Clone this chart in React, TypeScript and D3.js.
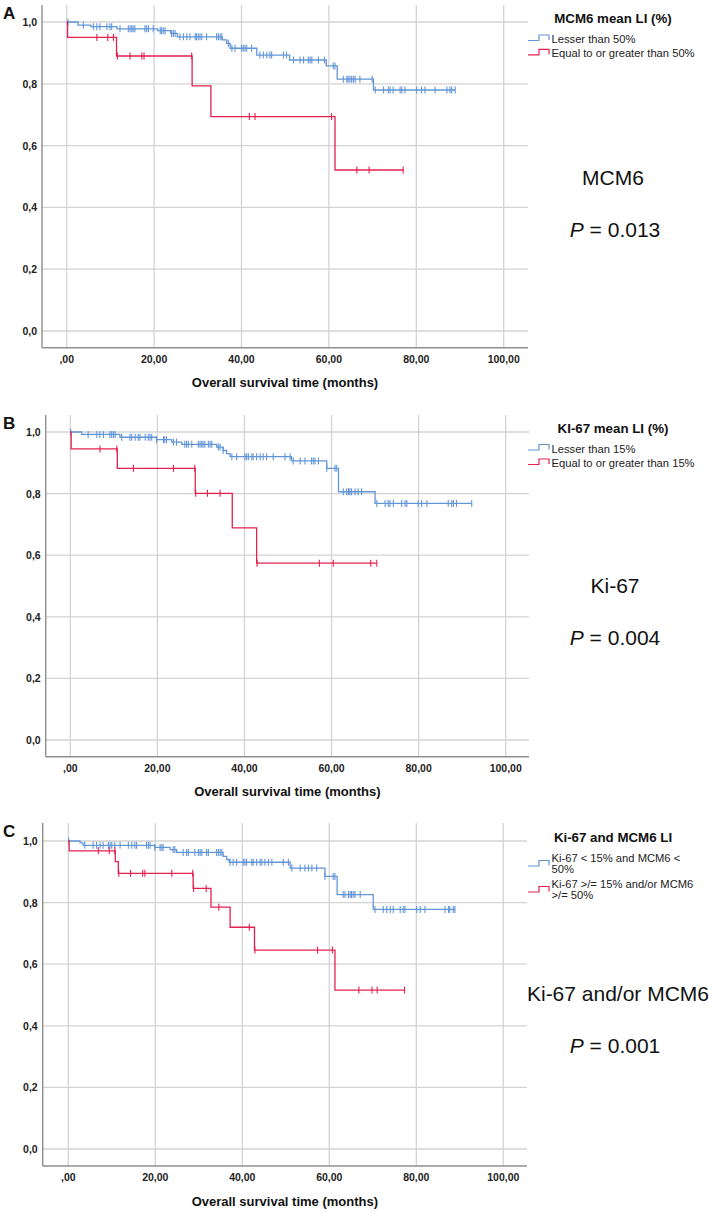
import React from 'react';
import * as d3 from 'd3';

// ---------- shared axis data ----------
const X_TICKS = [0, 20, 40, 60, 80, 100];
const X_TICK_LABELS = [',00', '20,00', '40,00', '60,00', '80,00', '100,00'];
const Y_TICKS = [0, 0.2, 0.4, 0.6, 0.8, 1.0];
const Y_TICK_LABELS = ['0,0', '0,2', '0,4', '0,6', '0,8', '1,0'];
const X_TITLE = 'Overall survival time (months)';

// ---------- Panel A : MCM6 ----------
const A_LOW_T = [2.6, 5.5, 11.5, 20.8, 23.8, 25.3, 35.6, 36.6, 37.4, 43.5, 51.0, 59.4, 61.9, 70.2];
const A_LOW_S = [0.99, 0.985, 0.978, 0.972, 0.963, 0.952, 0.942, 0.931, 0.915, 0.893, 0.877, 0.858, 0.815, 0.78];
const A_LOW_CENS = [0.3, 3.8, 6.1, 6.9, 7.6, 9.2, 9.9, 10.3, 12.2, 14.1, 14.5, 14.9, 15.2, 15.6, 17.9, 18.3, 18.7, 19.8,
  21.4, 21.7, 22.1, 22.5, 24.0, 24.4, 24.8, 25.9, 26.7, 27.5, 28.2, 29.4, 29.7, 30.1, 30.5, 30.9, 32.0, 34.3, 34.7,
  35.1, 35.5, 37.0, 37.8, 38.5, 40.0, 40.4, 40.8, 41.2, 42.3, 44.2, 45.0, 45.8, 46.5, 46.9, 49.6, 50.3, 51.9, 53.4,
  54.2, 55.3, 55.7, 56.1, 57.6, 59.0, 61.0, 61.4, 63.3, 64.1, 64.4, 64.8, 65.2, 65.6, 66.0, 67.1, 69.9, 70.6, 72.5,
  73.6, 74.0, 74.7, 76.3, 76.7, 77.4, 80.1, 81.2, 82.0, 84.3, 87.0, 87.7, 88.1, 88.9];
const A_HIGH_T = [0.2, 11.4, 28.7, 33.0, 61.4];
const A_HIGH_S = [0.95, 0.89, 0.793, 0.694, 0.521];
const A_HIGH_CENS = [6.9, 9.4, 10.7, 11.6, 14.5, 17.2, 17.7, 28.6, 41.8, 43.1, 60.6, 66.4, 69.2, 77.0];
const A_LEGEND_TITLE = 'MCM6 mean LI (%)';
const A_LEGEND_LOW = ['Lesser than 50%'];
const A_LEGEND_HIGH = ['Equal to or greater than 50%'];
const A_MARKER = 'MCM6';
const A_P = '0.013';

// ---------- Panel B : Ki-67 ----------
const B_LOW_T = [2.6, 11.4, 19.8, 23.3, 25.6, 33.6, 35.1, 35.9, 36.7, 50.8, 58.9, 61.6, 70.0];
const B_LOW_S = [0.992, 0.983, 0.975, 0.967, 0.96, 0.951, 0.94, 0.93, 0.92, 0.906, 0.882, 0.806, 0.768];
const B_LOW_CENS = [0.1, 4.1, 6.1, 6.8, 7.6, 9.1, 9.5, 9.9, 10.3, 11.8, 13.7, 14.1, 14.9, 15.6, 16.0, 17.2, 17.9, 18.3,
  18.7, 19.8, 21.4, 21.7, 22.1, 23.7, 24.4, 26.3, 26.7, 27.1, 27.9, 29.4, 29.8, 30.2, 30.5, 30.9, 31.7, 32.1, 32.5,
  34.0, 34.4, 35.1, 37.1, 38.2, 40.1, 40.5, 40.9, 41.7, 42.0, 42.8, 43.6, 44.3, 45.1, 46.6, 49.3, 50.5, 51.2, 52.8,
  53.9, 55.4, 55.8, 56.2, 57.0, 58.9, 60.8, 61.2, 62.7, 63.5, 63.9, 64.2, 64.6, 65.4, 66.1, 66.9, 70.4, 72.3, 73.0,
  73.4, 74.2, 76.1, 76.9, 77.3, 79.9, 80.7, 81.9, 86.8, 87.6, 88.0, 88.7, 92.2];
const B_HIGH_T = [0.2, 10.8, 28.7, 37.2, 42.8];
const B_HIGH_S = [0.945, 0.882, 0.801, 0.689, 0.574];
const B_HIGH_CENS = [6.8, 10.7, 14.5, 23.7, 28.6, 28.8, 31.5, 34.4, 42.9, 57.2, 60.4, 69.0, 70.4];
const B_LEGEND_TITLE = 'KI-67 mean LI (%)';
const B_LEGEND_LOW = ['Lesser than 15%'];
const B_LEGEND_HIGH = ['Equal to or greater than 15%'];
const B_MARKER = 'Ki-67';
const B_P = '0.004';

// ---------- Panel C : Ki-67 and/or MCM6 ----------
const C_LOW_T = [2.7, 3.4, 19.9, 23.4, 24.9, 35.6, 36.4, 37.0, 51.0, 59.0, 61.8, 70.1];
const C_LOW_S = [0.994, 0.986, 0.979, 0.972, 0.963, 0.95, 0.94, 0.931, 0.912, 0.885, 0.826, 0.778];
const C_LOW_CENS = [0.1, 3.8, 5.7, 6.5, 7.3, 8.0, 9.2, 9.6, 10.0, 10.7, 11.9, 13.8, 14.6, 15.3, 15.7, 18.0, 18.4, 18.8,
  19.9, 21.1, 21.5, 21.8, 24.1, 24.5, 26.4, 27.2, 27.6, 29.1, 29.9, 30.3, 30.7, 31.8, 32.2, 34.1, 34.5, 34.9, 35.3,
  37.2, 37.9, 38.7, 40.2, 40.6, 41.0, 42.2, 42.5, 43.3, 44.1, 44.5, 45.2, 46.0, 46.8, 49.4, 50.6, 51.4, 53.3, 54.4,
  55.2, 56.0, 57.1, 59.0, 60.9, 61.3, 63.2, 63.6, 64.4, 64.8, 65.1, 65.5, 65.9, 67.1, 70.5, 72.4, 73.2, 74.0, 74.7,
  76.3, 77.0, 77.4, 80.1, 80.9, 82.0, 86.6, 87.4, 87.7, 88.5, 88.9];
const C_HIGH_T = [0.2, 10.8, 11.5, 28.7, 32.8, 37.2, 42.8, 61.3];
const C_HIGH_S = [0.968, 0.933, 0.895, 0.846, 0.785, 0.72, 0.646, 0.516];
const C_HIGH_CENS = [6.9, 9.4, 10.7, 11.6, 14.3, 17.1, 17.6, 23.8, 28.6, 28.8, 31.7, 34.6, 41.6, 42.9, 57.3, 60.7, 66.8,
  69.8, 71.0, 77.3];
const C_LEGEND_TITLE = 'Ki-67 and MCM6 LI';
const C_LEGEND_LOW = ['Ki-67 < 15% and MCM6 <', '50%'];
const C_LEGEND_HIGH = ['Ki-67 >/= 15% and/or MCM6', '>/= 50%'];
const C_MARKER = 'Ki-67 and/or MCM6';
const C_P = '0.001';

// ---------- styling ----------
const BLUE = '#6296d8';
const RED = '#e3214f';
const GRID = '#d3d3d3';
const AXIS = '#8f8f8f';
const FONT = '"Liberation Sans", Arial, sans-serif';

type Series = { t: number[]; s: number[]; cens: number[] };

type PanelCfg = {
  letter: string;
  letterY: number;
  axisX: number; x0: number; x100: number; right: number;
  top: number; y1: number; y0: number; bottom: number;
  low: Series; high: Series;
  legendTitle: string; legendTitleY: number;
  legendLow: string[]; legendHigh: string[];
  legendLowY: number; legendHighY: number;
  marker: string; markerY: number; markerX: number;
  p: string; pY: number;
};

const PANELS: PanelCfg[] = [
  {
    letter: 'A', letterY: 13,
    axisX: 42, x0: 66.7, x100: 503.7, right: 528,
    top: 5, y1: 22, y0: 331, bottom: 347.7,
    low: { t: A_LOW_T, s: A_LOW_S, cens: A_LOW_CENS },
    high: { t: A_HIGH_T, s: A_HIGH_S, cens: A_HIGH_CENS },
    legendTitle: A_LEGEND_TITLE, legendTitleY: 18.3,
    legendLow: A_LEGEND_LOW, legendHigh: A_LEGEND_HIGH,
    legendLowY: 39, legendHighY: 53.3,
    marker: A_MARKER, markerY: 177, markerX: 613,
    p: A_P, pY: 229,
  },
  {
    letter: 'B', letterY: 422.5,
    axisX: 45.7, x0: 70.3, x100: 505.7, right: 529,
    top: 415, y1: 432, y0: 740, bottom: 756.7,
    low: { t: B_LOW_T, s: B_LOW_S, cens: B_LOW_CENS },
    high: { t: B_HIGH_T, s: B_HIGH_S, cens: B_HIGH_CENS },
    legendTitle: B_LEGEND_TITLE, legendTitleY: 428,
    legendLow: B_LEGEND_LOW, legendHigh: B_LEGEND_HIGH,
    legendLowY: 448.5, legendHighY: 463,
    marker: B_MARKER, markerY: 585, markerX: 615,
    p: B_P, pY: 637,
  },
  {
    letter: 'C', letterY: 831,
    axisX: 42.7, x0: 68.3, x100: 503.3, right: 527,
    top: 823, y1: 841, y0: 1149, bottom: 1166,
    low: { t: C_LOW_T, s: C_LOW_S, cens: C_LOW_CENS },
    high: { t: C_HIGH_T, s: C_HIGH_S, cens: C_HIGH_CENS },
    legendTitle: C_LEGEND_TITLE, legendTitleY: 837,
    legendLow: C_LEGEND_LOW, legendHigh: C_LEGEND_HIGH,
    legendLowY: 858, legendHighY: 884,
    marker: C_MARKER, markerY: 993, markerX: 618,
    p: C_P, pY: 1045,
  },
];

function stepValue(ser: Series, t: number): number {
  let v = 1;
  for (let i = 0; i < ser.t.length; i++) if (ser.t[i] <= t) v = ser.s[i];
  return v;
}

function Curve({ ser, color, x, y }: { ser: Series; color: string; x: d3.ScaleLinear<number, number>; y: d3.ScaleLinear<number, number> }) {
  const end = Math.max(ser.t[ser.t.length - 1], d3.max(ser.cens) ?? 0);
  const pts: [number, number][] = [[0, 1], ...ser.t.map((t, i) => [t, ser.s[i]] as [number, number]), [end, ser.s[ser.s.length - 1]]];
  const line = d3.line<[number, number]>().x(d => x(d[0])).y(d => y(d[1])).curve(d3.curveStepAfter);
  return (
    <g>
      <path d={line(pts) ?? ''} fill="none" stroke={color} strokeWidth={1.3} />
      {ser.cens.map((c, i) => {
        const cx = x(c);
        const cy = y(stepValue(ser, c));
        return <line key={i} x1={cx} x2={cx} y1={cy - 3.5} y2={cy + 3.5} stroke={color} strokeWidth={1.1} />;
      })}
    </g>
  );
}

function LegendItem({ lines, cy, color }: { lines: string[]; cy: number; color: string }) {
  const iconY = lines.length > 1 ? cy + 6.5 : cy;
  const d = `M528,${iconY + 1.5} H539 V${iconY - 4} H549 V${iconY + 1}`;
  return (
    <g>
      <path d={d} fill="none" stroke={color} strokeWidth={1.2} />
      {lines.map((l, i) => (
        <text key={i} x={551.5} y={cy + i * 11 + 4} fontSize={11.2} fontFamily={FONT} fill="#222">{l}</text>
      ))}
    </g>
  );
}

function Panel({ cfg }: { cfg: PanelCfg }) {
  const x = d3.scaleLinear().domain([0, 100]).range([cfg.x0, cfg.x100]);
  const y = d3.scaleLinear().domain([0, 1]).range([cfg.y0, cfg.y1]);
  return (
    <g>
      <text x={3} y={cfg.letterY + 6} fontSize={17} fontWeight="bold" fontFamily={FONT} fill="#111">{cfg.letter}</text>
      {/* grid */}
      {Y_TICKS.map((v, i) => (
        <line key={'gy' + i} x1={cfg.axisX} x2={cfg.right} y1={y(v)} y2={y(v)} stroke={GRID} strokeWidth={1.3} />
      ))}
      {X_TICKS.map((v, i) => (
        <line key={'gx' + i} x1={x(v)} x2={x(v)} y1={cfg.top} y2={cfg.bottom} stroke={GRID} strokeWidth={1.3} />
      ))}
      {/* axes */}
      <line x1={cfg.axisX} x2={cfg.axisX} y1={cfg.top} y2={cfg.bottom} stroke={AXIS} strokeWidth={1.4} />
      <line x1={cfg.axisX} x2={cfg.right} y1={cfg.bottom} y2={cfg.bottom} stroke={AXIS} strokeWidth={1.4} />
      {Y_TICKS.map((v, i) => (
        <text key={'ty' + i} x={cfg.axisX - 5} y={y(v) + 4} textAnchor="end" fontSize={10.5} fontWeight="bold" fontFamily={FONT} fill="#222">{Y_TICK_LABELS[i]}</text>
      ))}
      {X_TICKS.map((v, i) => (
        <text key={'tx' + i} x={x(v)} y={cfg.bottom + 15} textAnchor="middle" fontSize={10.5} fontWeight="bold" fontFamily={FONT} fill="#222">{X_TICK_LABELS[i]}</text>
      ))}
      <text x={(cfg.axisX + cfg.right) / 2} y={cfg.bottom + 39.5} textAnchor="middle" fontSize={13} fontWeight="bold" fontFamily={FONT} fill="#111">{X_TITLE}</text>
      {/* curves */}
      <Curve ser={cfg.low} color={BLUE} x={x} y={y} />
      <Curve ser={cfg.high} color={RED} x={x} y={y} />
      {/* legend */}
      <text x={613} y={cfg.legendTitleY + 4.7} textAnchor="middle" fontSize={13.3} fontWeight="bold" fontFamily={FONT} fill="#111">{cfg.legendTitle}</text>
      <LegendItem lines={cfg.legendLow} cy={cfg.legendLowY} color={BLUE} />
      <LegendItem lines={cfg.legendHigh} cy={cfg.legendHighY} color={RED} />
      {/* annotation */}
      <text x={cfg.markerX} y={cfg.markerY + 7.5} textAnchor="middle" fontSize={21} fontFamily={FONT} fill="#111">{cfg.marker}</text>
      <text x={615} y={cfg.pY + 7.5} textAnchor="middle" fontSize={21} fontFamily={FONT} fill="#111">
        <tspan fontStyle="italic">P</tspan>{' = ' + cfg.p}
      </text>
    </g>
  );
}

export default function App() {
  return (
    <svg width={709} height={1212} style={{ position: 'absolute', left: 0, top: 0, background: '#fff' }}>
      <rect x={0} y={0} width={709} height={1212} fill="#fff" />
      {PANELS.map((p, i) => <Panel key={i} cfg={p} />)}
    </svg>
  );
}
